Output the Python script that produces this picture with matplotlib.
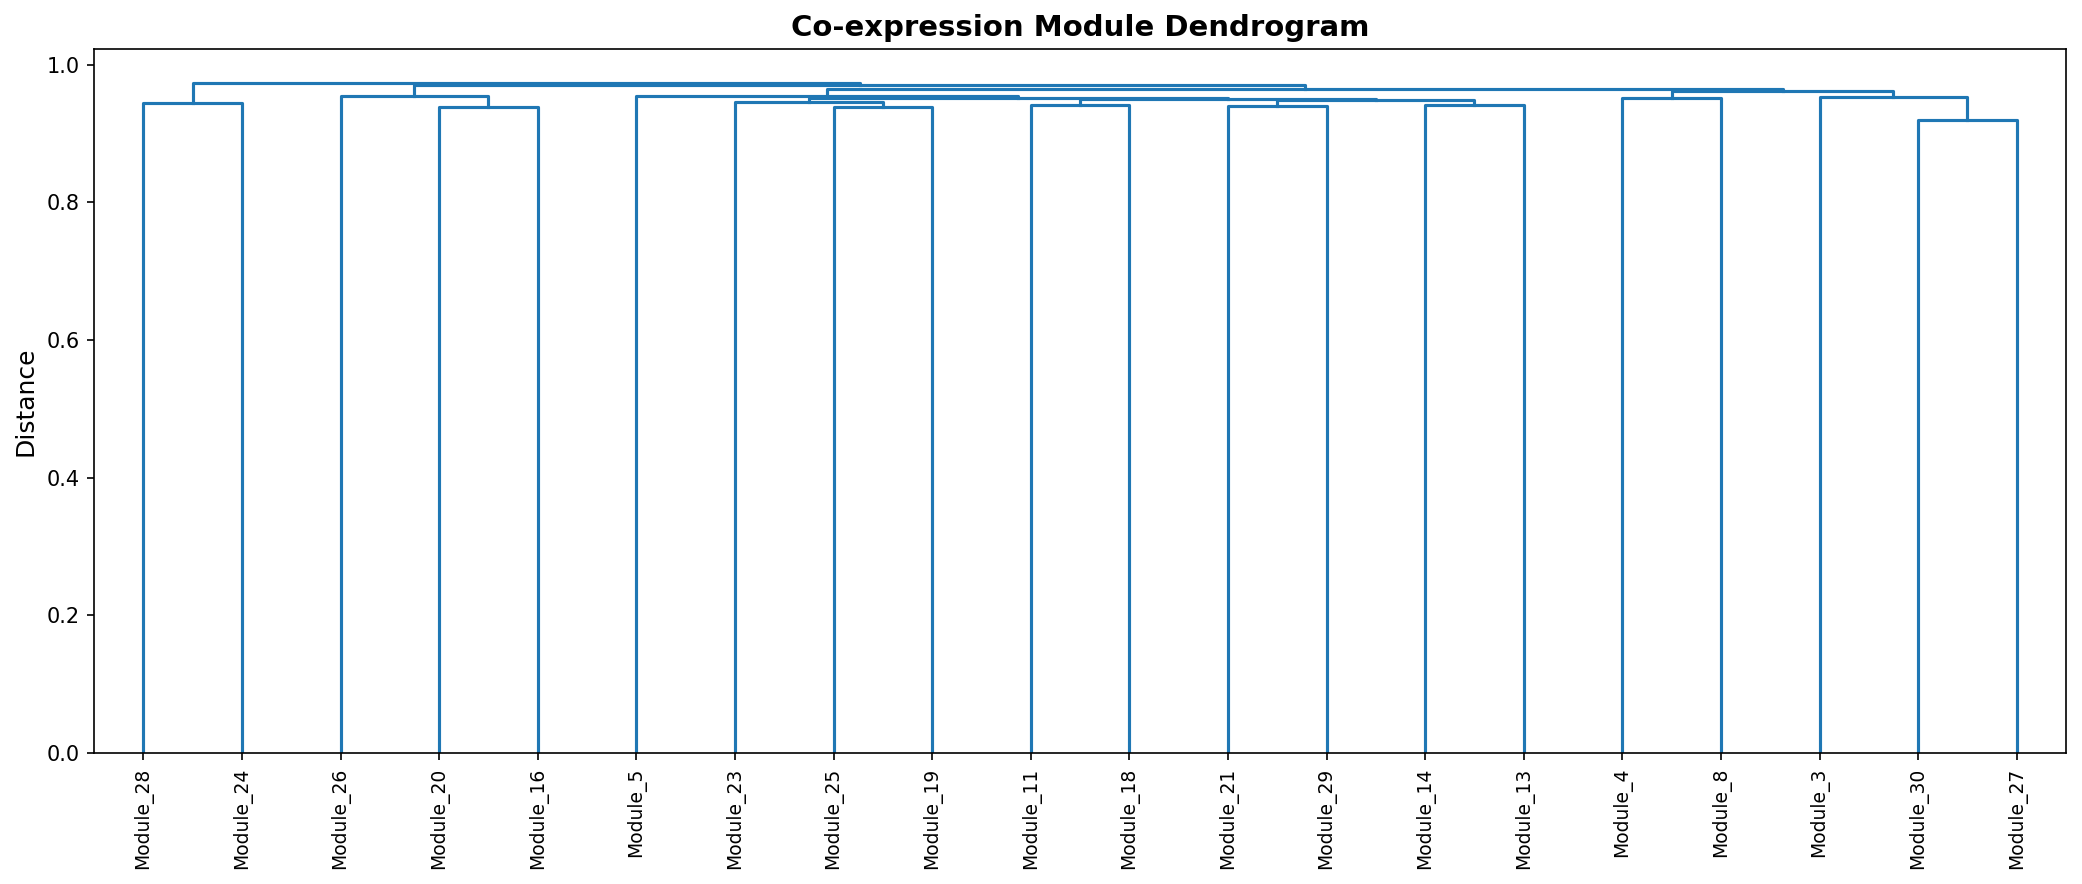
import numpy as np
import matplotlib
matplotlib.use("Agg")
import matplotlib.pyplot as plt

# leaf labels in dendrogram order (left -> right)
leaves = ["Module_28", "Module_24", "Module_26", "Module_20", "Module_16",
          "Module_5", "Module_23", "Module_25", "Module_19", "Module_11",
          "Module_18", "Module_21", "Module_29", "Module_14", "Module_13",
          "Module_4", "Module_8", "Module_3", "Module_30", "Module_27"]

# merges: (left child, right child, height); children are leaf names or
# earlier merge names
merge_names = ["A", "B", "C", "D", "E", "F", "G", "H", "I", "J",
               "K", "L", "M", "N", "O", "P", "Q", "R", "S"]
merge_left = ["Module_28", "Module_20", "Module_26", "Module_25", "Module_23",
              "Module_11", "Module_21", "Module_14", "G", "F",
              "E", "Module_5", "Module_4", "Module_30", "Module_3",
              "M", "L", "C", "A"]
merge_right = ["Module_24", "Module_16", "B", "Module_19", "D",
               "Module_18", "Module_29", "Module_13", "H", "I",
               "J", "K", "Module_8", "Module_27", "N",
               "O", "P", "Q", "R"]
merge_height = [0.944, 0.938, 0.955, 0.939, 0.946,
                0.942, 0.940, 0.941, 0.948, 0.950,
                0.952, 0.955, 0.951, 0.919, 0.953,
                0.961, 0.964, 0.970, 0.974]

LINK_COLOR = "#1f77b4"

fig = plt.figure(figsize=(2082 / 150, 884 / 150), dpi=150)
ax = fig.add_axes([94 / 2082, 1 - 753 / 884, (2066 - 94) / 2082, (753 - 49) / 884])

# scipy-style positions: leaves at 5, 15, 25, ...
pos = {name: 5 + 10 * i for i, name in enumerate(leaves)}
hgt = {name: 0.0 for name in leaves}
for name, l, r, h in zip(merge_names, merge_left, merge_right, merge_height):
    xl, xr = pos[l], pos[r]
    ax.plot([xl, xl, xr, xr], [hgt[l], h, h, hgt[r]], color=LINK_COLOR, linewidth=1.5)
    pos[name] = (xl + xr) / 2
    hgt[name] = h

n = len(leaves)
ax.set_xlim(0, 10 * n)
ax.set_ylim(0, max(merge_height) * 1.05)
ax.set_xticks([5 + 10 * i for i in range(n)])
ax.set_xticklabels(leaves, rotation=90, fontsize=9)
ax.set_yticks(np.arange(0, 1.01, 0.2))
ax.tick_params(axis="y", labelsize=10)
ax.set_ylabel("Distance", fontsize=12)
ax.set_title("Co-expression Module Dendrogram", fontsize=14, fontweight="bold")

fig.savefig("out.png", dpi=150)
